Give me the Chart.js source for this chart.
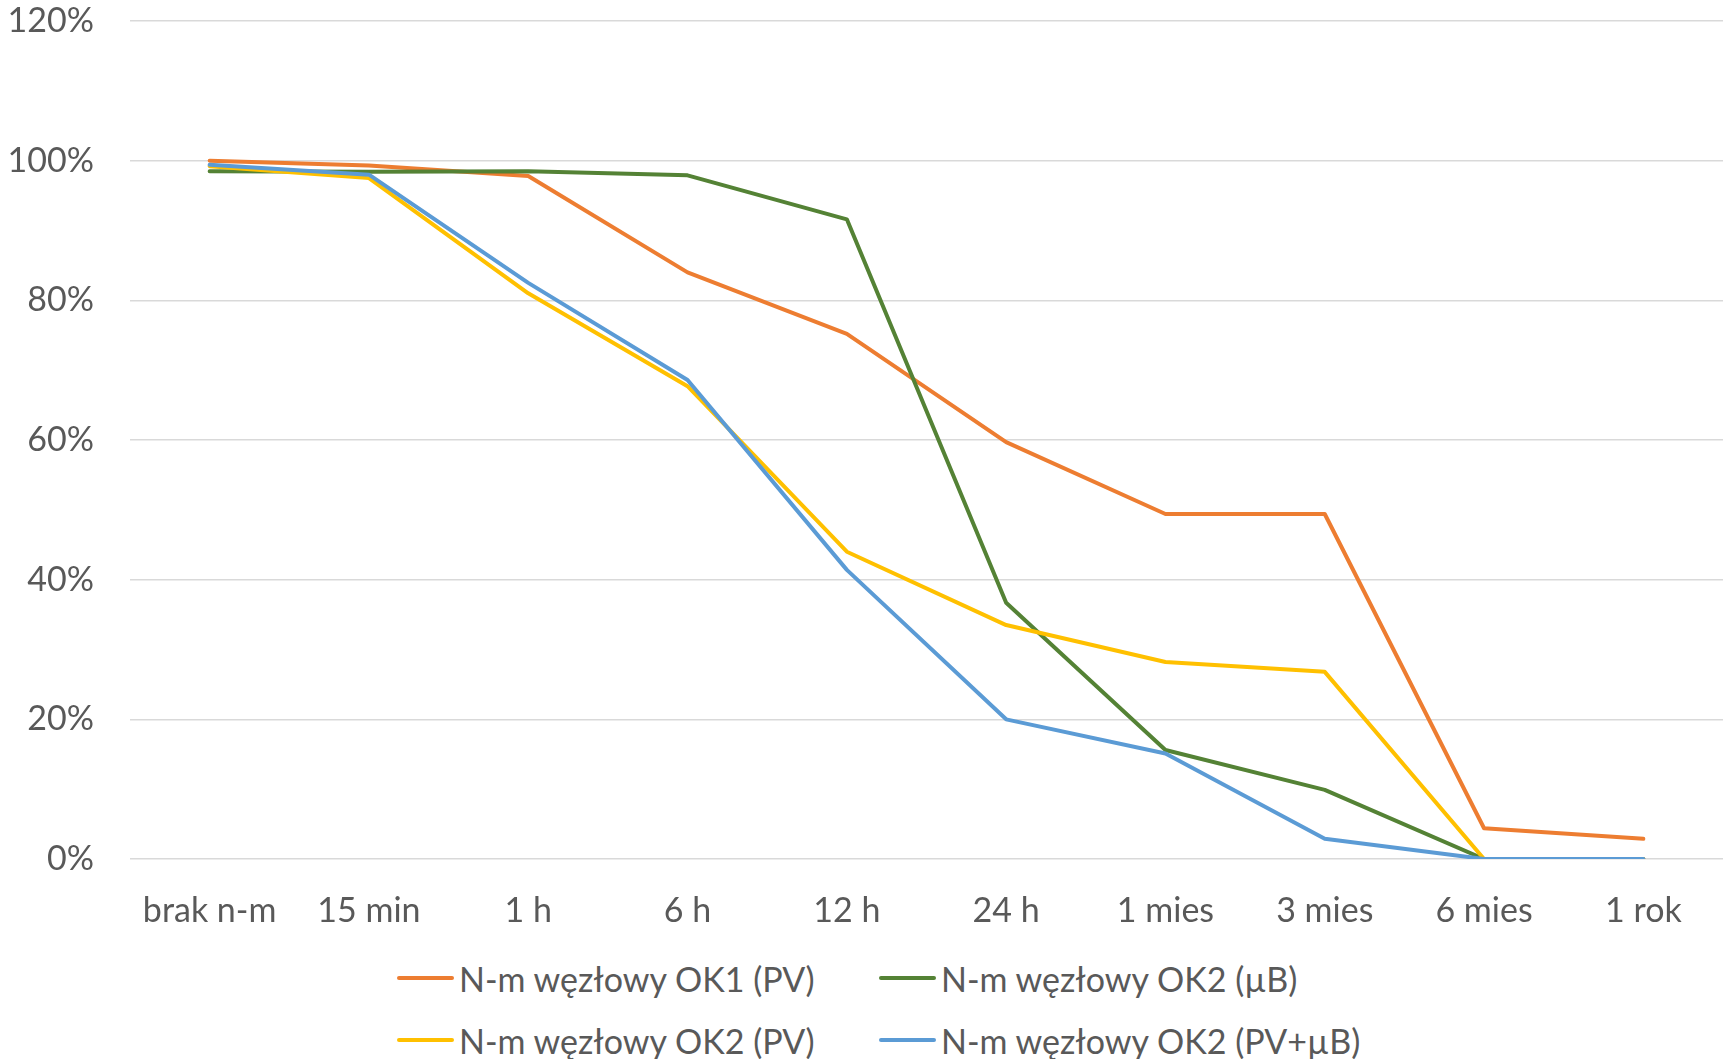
<!DOCTYPE html>
<html>
<head>
<meta charset="utf-8">
<script src="https://cdn.jsdelivr.net/npm/chart.js@4.4.1/dist/chart.umd.min.js"></script>
<style>
  body { margin: 0; background: #fff; }
  #wrap { position: relative; width: 1729px; height: 1059px; }
  #box { position: absolute; left: 0; top: 0; width: 1729px; height: 940px; }
  #legend {
    position: absolute; left: 397px; top: 953px;
    display: grid; grid-template-columns: 482px auto; row-gap: 12px;
    font-family: Lato, sans-serif; font-size: 34px; color: #595959;
  }
  .item { display: flex; align-items: center; height: 50px; white-space: nowrap; }
  .item span.ln { display: inline-block; width: 57px; height: 4px; border-radius: 2px; margin-right: 5px; }
</style>
</head>
<body>
<div id="wrap">
  <div id="box"><canvas id="chart"></canvas></div>
  <div id="legend"></div>
</div>
<script>
// categories (time since n-m)
const categories = ['brak n-m', '15 min', '1 h', '6 h', '12 h', '24 h', '1 mies', '3 mies', '6 mies', '1 rok'];

// series values, %
const ok1PV   = [100, 99.3, 97.8, 84.0, 75.2, 59.7, 49.4, 49.4, 4.4, 2.9];
const ok2uB   = [98.5, 98.4, 98.5, 97.9, 91.6, 36.7, 15.6, 9.9, 0, 0];
const ok2PV   = [99.2, 97.5, 81.0, 67.7, 44.0, 33.5, 28.2, 26.8, 0, 0];
const ok2PVuB = [99.4, 98.0, 82.5, 68.6, 41.4, 20.0, 15.1, 2.9, 0, 0];

const seriesNames = ['N-m węzłowy OK1 (PV)', 'N-m węzłowy OK2 (µB)', 'N-m węzłowy OK2 (PV)', 'N-m węzłowy OK2 (PV+µB)'];
const colors = ['#ED7D31', '#548235', '#FFC000', '#5B9BD5'];

// y tick values
const yTicks = [0, 20, 40, 60, 80, 100, 120];

const textColor = '#595959';
const font = { family: 'Lato, sans-serif', size: 34 };

// later series on top, like in Excel
function line(label, data, color, order) {
    return {
        label: label,
        data: data,
        borderColor: color,
        backgroundColor: color,
        borderWidth: 4,
        pointRadius: 0,
        tension: 0,
        borderJoinStyle: 'round',
        borderCapStyle: 'round',
        order: order
    };
}

const ctx = document.getElementById('chart').getContext('2d');
const chart = new Chart(ctx, {
    type: 'line',
    data: {
        labels: categories,
        datasets: [
            line(seriesNames[0], ok1PV, colors[0], 3),
            line(seriesNames[1], ok2uB, colors[1], 2),
            line(seriesNames[2], ok2PV, colors[2], 1),
            line(seriesNames[3], ok2PVuB, colors[3], 0)
        ]
    },
    options: {
        responsive: true,
        maintainAspectRatio: false,
        animation: false,
        layout: { padding: { top: 21, right: 6, left: 0, bottom: 0 } },
        plugins: {
            legend: { display: false },
            tooltip: { enabled: false }
        },
        scales: {
            x: {
                offset: true,
                grid: { display: false, drawTicks: false },
                border: { display: false },
                ticks: { color: textColor, font: font, padding: 32, maxRotation: 0 },
                afterFit: function (s) { s.height = 81; s.paddingLeft = 0; s.paddingRight = 0; }
            },
            y: {
                min: 0,
                max: 120,
                afterBuildTicks: function (s) { s.ticks = yTicks.map(v => ({ value: v })); },
                grid: { color: '#D9D9D9', lineWidth: 1.5, drawTicks: false },
                border: { display: false },
                ticks: { color: textColor, font: font, padding: 36, callback: v => v + '%' },
                afterFit: function (s) { s.width = 130; s.paddingTop = 0; s.paddingBottom = 0; }
            }
        }
    }
});

// legend in Excel's 2x2 layout
const leg = document.getElementById('legend');
chart.data.datasets.forEach(function (ds) {
    const it = document.createElement('div');
    it.className = 'item';
    const ln = document.createElement('span');
    ln.className = 'ln';
    ln.style.background = ds.borderColor;
    it.appendChild(ln);
    it.appendChild(document.createTextNode(ds.label));
    leg.appendChild(it);
});
</script>
</body>
</html>
